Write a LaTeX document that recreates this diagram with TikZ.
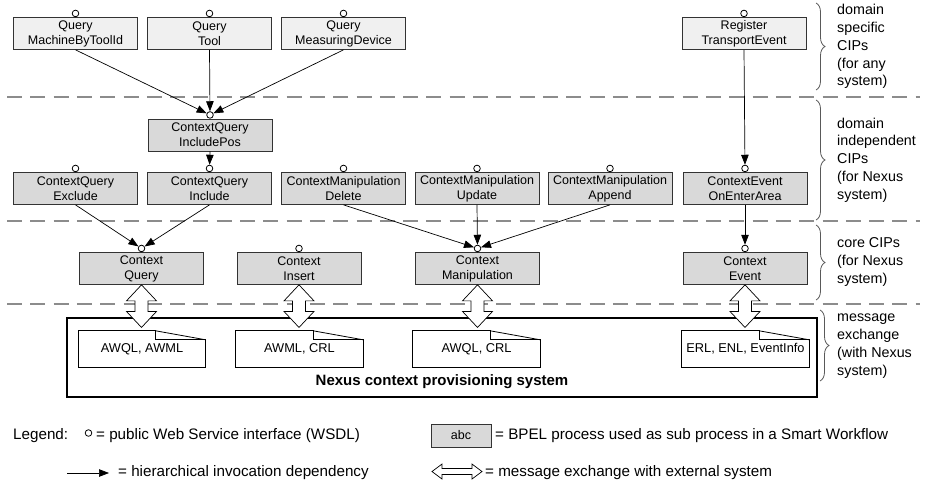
\documentclass[tikz,border=0pt]{standalone}
\usepackage{fontspec}
\setmainfont{Liberation Sans}
\usetikzlibrary{arrows.meta,calc,decorations.pathreplacing}

\tikzset{
  cipbox/.style={draw=black!80, line width=0.7pt, minimum width=124pt, minimum height=32pt,
    inner sep=0pt, align=center, font=\fontsize{12.5}{15}\selectfont},
  dsbox/.style={cipbox, fill=black!6},
  dibox/.style={cipbox, fill=black!15},
  port/.style={circle, draw=black, fill=white, line width=0.8pt, minimum size=6.6pt, inner sep=0pt},
  dep/.style={line width=0.7pt, -{Triangle[length=10pt,width=7.5pt]}},
  sepline/.style={draw=black!45, line width=1.3pt, dash pattern=on 15pt off 8.3pt},
  brc/.style={draw=black!65, line width=0.8pt, decorate, decoration={brace, amplitude=9pt}},
  brctext/.style={anchor=west, align=left, inner sep=0pt, font=\fontsize{14.3}{17.8}\selectfont},
  docbox/.style={minimum width=127pt, minimum height=36pt, inner sep=0pt, font=\fontsize{12.8}{15}\selectfont},
  docline/.style={draw=black, line width=0.8pt},
  xarrow/.style={draw=black, line width=0.7pt, fill=white},
  legtext/.style={anchor=west, inner sep=0pt, font=\fontsize{15.2}{18}\selectfont},
}

\begin{document}
\begin{tikzpicture}[x=1pt, y=-1pt, line join=miter]
  \newcommand{\cipnode}[5]{%
    % box with its public interface on top
    \node[#2] (#1) at (#3,#4) {#5};
    \node[port, anchor=south] (#1-p) at (#1.north) {};
  }
  \newcommand{\msgdoc}[4]{%
    % document with folded corner
    \node[docbox] (#1) at (#2,#3) {#4};
    \draw[docline] (#1.north west) -- ([xshift=-50pt]#1.north east) -- ([xshift=-50pt,yshift=-9pt]#1.north east)
      -- ([yshift=-9pt]#1.north east) -- (#1.south east) -- (#1.south west) -- cycle;
    \draw[docline] ([xshift=-50pt]#1.north east) -- ([yshift=-9pt]#1.north east);
  }
  \newcommand{\xchg}[2]{%
    \draw[xarrow] (#1) -- ++(15,16) -- ++(-8.5,0) -- ($(#2)+(6.5,-16)$) -- ++(8.5,0) -- (#2)
      -- ++(-15,-16) -- ++(8.5,0) -- ($(#1)+(-6.5,16)$) -- ++(-8.5,0) -- cycle;
  }
  \useasboundingbox (0,0) rectangle (925,485);

  % layer separators
  \draw[sepline] (7,97) -- (920,97);
  \draw[sepline] (7,221) -- (920,221);
  \draw[sepline] (7,304) -- (920,304);

  % Nexus system
  \node[draw, line width=1.1pt, minimum width=750pt, minimum height=79pt, inner sep=0pt] (nexus) at (442,357.5) {};
  \node[font=\bfseries\fontsize{15}{18}\selectfont, inner sep=0pt] (nexus-t) at (442,381.5) {Nexus context provisioning system};
  \msgdoc{d-cq}{142}{349}{AWQL, AWML}
  \msgdoc{d-ci}{299.5}{349}{AWML, CRL}
  \msgdoc{d-cm}{476.5}{349}{AWQL, CRL}
  \msgdoc{d-ce}{745.5}{349}{ERL, ENL, EventInfo}

  % domain specific CIPs
  \cipnode{q1}{dsbox}{75.5}{33.5}{Query\\MachineByToolId}
  \cipnode{q2}{dsbox}{209.5}{33.5}{Query\\Tool}
  \cipnode{q3}{dsbox}{343.5}{33.5}{Query\\MeasuringDevice}
  \cipnode{rte}{dsbox}{744}{33.5}{Register\\TransportEvent}

  % domain independent CIPs
  \cipnode{cqip}{dibox}{210}{135}{ContextQuery\\IncludePos}
  \cipnode{cqe}{dibox}{75.5}{188.5}{ContextQuery\\Exclude}
  \cipnode{cqi}{dibox}{209.5}{188.5}{ContextQuery\\Include}
  \cipnode{cmd}{dibox}{343.5}{188.5}{ContextManipulation\\Delete}
  \cipnode{cmu}{dibox}{477}{188.5}{ContextManipulation\\Update}
  \cipnode{cma}{dibox}{610}{188.5}{ContextManipulation\\Append}
  \cipnode{ceo}{dibox}{745}{188.5}{ContextEvent\\OnEnterArea}

  % core CIPs
  \cipnode{cq}{dibox}{141.5}{268.5}{Context\\Query}
  \cipnode{ci}{dibox}{299}{268.5}{Context\\Insert}
  \cipnode{cm}{dibox}{477.5}{268.5}{Context\\Manipulation}
  \cipnode{ce}{dibox}{745}{268.5}{Context\\Event}

  % invocation dependencies
  \draw[dep] (q1.south) -- (cqip-p);
  \draw[dep] (q2.south) -- (cqip-p);
  \draw[dep] (q3.south) -- (cqip-p);
  \draw[dep] (rte.south) -- (ceo-p);
  \draw[dep] (cqip.south) -- (cqi-p);
  \draw[dep] (cqe.south) -- (cq-p);
  \draw[dep] (cqi.south) -- (cq-p);
  \draw[dep] (cmd.south) -- (cm-p);
  \draw[dep] (cmu.south) -- (cm-p);
  \draw[dep] (cma.south) -- (cm-p);
  \draw[dep] (ceo.south) -- (ce-p);

  % message exchange
  \foreach \c in {cq,ci,cm,ce}{
    \coordinate (x-\c) at ($(\c.south |- nexus.north)+(0,10)$);
    \xchg{\c.south}{x-\c}
  }

  % layer braces
  \draw[brc] (816,3) -- (816,90);
  \node[brctext] (b1) at (837,46.5) {domain\\specific\\CIPs\\(for any\\system)};
  \draw[brc] (816,100) -- (816,220);
  \node[brctext] (b2) at (837,160) {domain\\independent\\CIPs\\(for Nexus\\system)};
  \draw[brc] (816,225) -- (816,300);
  \node[brctext] (b3) at (837,262) {core CIPs\\(for Nexus\\system)};
  \draw[brc] (820,310) -- (820,381);
  \node[brctext] (b4) at (837,346) {message\\exchange\\(with Nexus\\system)};

  % legend
  \node[legtext] (leg) at (13,436) {Legend:};
  \node[port] (leg-p) at (88.5,433) {};
  \node[legtext] (leg-pt) at (96,436) {= public Web Service interface (WSDL)};
  \node[dibox, minimum width=60pt, minimum height=23pt] (leg-box) at (461,435.5) {abc};
  \node[legtext] (leg-bt) at (495,436) {= BPEL process used as sub process in a Smart Workflow};
  \coordinate (leg-a1) at (67,473);
  \coordinate (leg-a2) at (109,473);
  \draw[dep] (leg-a1) -- (leg-a2);
  \node[legtext] (leg-at) at (118,473) {= hierarchical invocation dependency};
  \coordinate (leg-x1) at (432,471.5);
  \coordinate (leg-x2) at (482,471.5);
  \draw[xarrow] (leg-x1) -- ++(10,-7.5) -- ++(0,4.5) -- ($(leg-x2)+(-10,-3)$) -- ++(0,-4.5) -- (leg-x2)
    -- ++(-10,7.5) -- ++(0,-4.5) -- ($(leg-x1)+(10,3)$) -- ++(0,4.5) -- cycle;
  \node[legtext] (leg-xt) at (485,473) {= message exchange with external system};
\end{tikzpicture}
\end{document}
